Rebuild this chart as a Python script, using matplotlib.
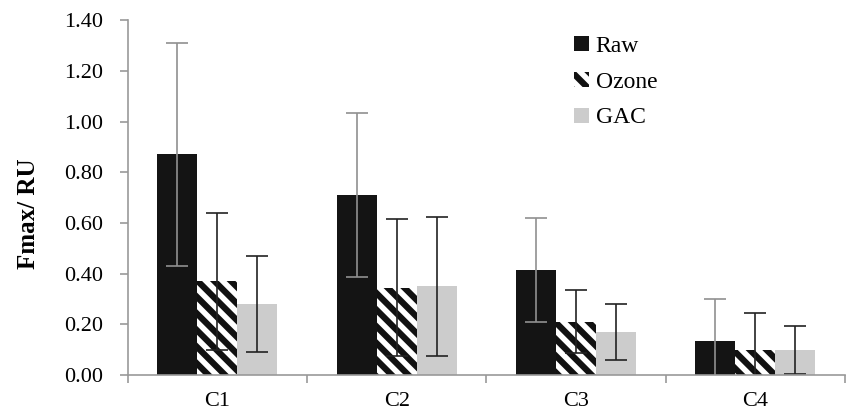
import matplotlib.pyplot as plt
import numpy as np

categories = ["C1", "C2", "C3", "C4"]
raw = [0.87, 0.71, 0.415, 0.135]
raw_err = [0.44, 0.325, 0.205, 0.165]
ozone = [0.37, 0.345, 0.21, 0.10]
ozone_err = [0.27, 0.27, 0.125, 0.145]
gac = [0.28, 0.35, 0.17, 0.10]
gac_err = [0.19, 0.275, 0.11, 0.095]

plt.rcParams["font.family"] = ["Liberation Serif", "DejaVu Serif"]
plt.rcParams["hatch.linewidth"] = 4.5

fig = plt.figure(figsize=(8.46, 4.17), dpi=100)
ax = fig.add_axes([0.151, 0.1007, 0.848, 0.851])

x = np.arange(len(categories))
w = 0.223
ax.bar(x - w, raw, w, color="#141414", label="Raw",
       yerr=raw_err, error_kw=dict(ecolor="#909090", capsize=8, elinewidth=1.2, capthick=1.2))
ax.bar(x, ozone, w, color="white", hatch="\\\\", edgecolor="#111111", linewidth=0, label="Ozone",
       yerr=ozone_err, error_kw=dict(ecolor="#222222", capsize=8, elinewidth=1.2, capthick=1.2))
ax.bar(x + w, gac, w, color="#cccccc", label="GAC",
       yerr=gac_err, error_kw=dict(ecolor="#222222", capsize=8, elinewidth=1.2, capthick=1.2))

ax.set_xlim(-0.5, 3.5)
ax.set_ylim(0, 1.4)
ax.set_yticks(np.arange(0, 1.41, 0.2))
ax.set_yticklabels([f"{v:.2f}" for v in np.arange(0, 1.41, 0.2)])
ax.set_xticks(x)
ax.set_xticklabels(categories)
ax.set_xticks(np.arange(-0.5, 3.6, 1), minor=True)
ax.tick_params(axis="x", which="major", length=0, pad=12, labelsize=16)
ax.tick_params(axis="x", which="minor", length=6, color="#999999", width=1.2)
ax.tick_params(axis="y", length=6, color="#999999", width=1.2, labelsize=16, pad=12)

for s in ["top", "right"]:
    ax.spines[s].set_visible(False)
for s in ["left", "bottom"]:
    ax.spines[s].set_color("#999999")
    ax.spines[s].set_linewidth(1.2)

ax.set_ylabel("Fmax/ RU", fontsize=18, fontweight="bold")
ax.yaxis.set_label_coords(-0.123, 0.455)

ax.legend(loc="upper left", bbox_to_anchor=(0.593, 1.015), frameon=False, fontsize=17,
          handlelength=0.6, handleheight=0.6, handletextpad=0.3, labelspacing=0.62)

fig.savefig("out.png", dpi=100)
